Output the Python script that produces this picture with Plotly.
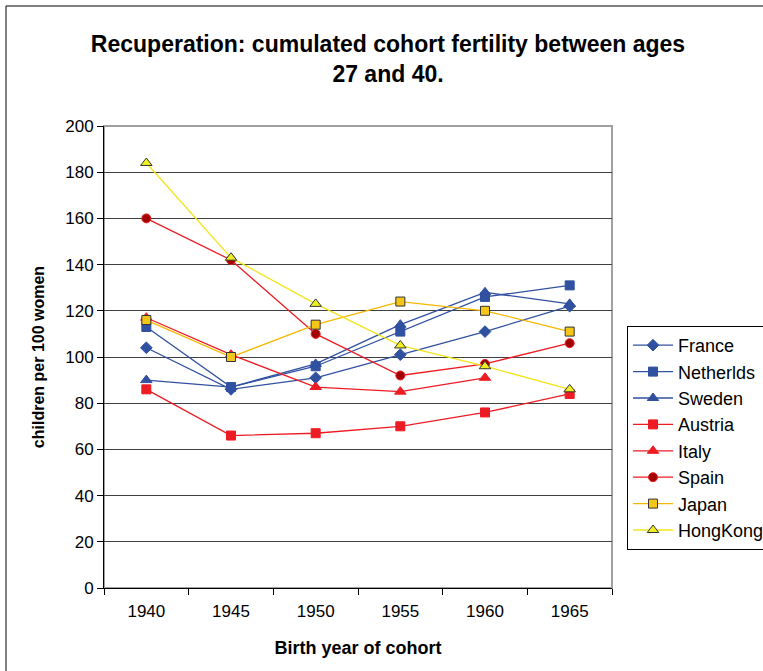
import plotly.graph_objects as go

years = ["1940", "1945", "1950", "1955", "1960", "1965"]

france = [104, 86, 91, 101, 111, 122]
netherlds = [113, 87, 96, 111, 126, 131]
sweden = [90, 87, 97, 114, 128, 123]
austria = [86, 66, 67, 70, 76, 84]
italy = [117, 101, 87, 85, 91, None]
spain = [160, 142, 110, 92, 97, 106]
japan = [116, 100, 114, 124, 120, 111]
hongkong = [184, 143, 123, 105, 96, 86]

BLUE = "#3050A0"
RED = "#ED1C24"

series = [
    ("France", france, "diamond", BLUE, BLUE, BLUE, 9),
    ("Netherlds", netherlds, "square", BLUE, BLUE, BLUE, 9),
    ("Sweden", sweden, "triangle-up", BLUE, BLUE, BLUE, 10),
    ("Austria", austria, "square", RED, RED, RED, 9),
    ("Italy", italy, "triangle-up", RED, RED, RED, 10),
    ("Spain", spain, "circle", RED, "#A00000", RED, 9),
    ("Japan", japan, "square", "#F5B800", "#F5C518", "#333333", 9),
    ("HongKong", hongkong, "triangle-up", "#F2E51A", "#F0F020", "#333333", 10),
]

fig = go.Figure()
for name, vals, sym, lc, fc, oc, sz in series:
    fig.add_trace(go.Scatter(
        x=years, y=vals, name=name, mode="lines+markers",
        line=dict(color=lc, width=1.3),
        marker=dict(symbol=sym, size=sz, color=fc, line=dict(color=oc, width=1)),
    ))

W, H = 763, 671
L, T, R, B = 104, 126, 151, 83
PW, PH = W - L - R, H - T - B

fig.update_layout(
    width=W, height=H,
    margin=dict(l=L, r=R, t=T, b=B, autoexpand=False),
    plot_bgcolor="white", paper_bgcolor="white",
    font=dict(family="Liberation Sans, Arial", size=17, color="black"),
    title=dict(
        text="<b>Recuperation: cumulated cohort fertility between ages<br>27 and 40.</b>",
        x=388 / W, xref="container", xanchor="center",
        y=1 - 52 / H, yref="container", yanchor="middle",
        font=dict(size=23),
    ),
    legend=dict(
        x=(627 - L) / PW, xanchor="left", y=(PH + T - 326) / PH, yanchor="top",
        bordercolor="black", borderwidth=1,
        font=dict(size=18), itemwidth=40, tracegroupgap=0,
    ),
    shapes=[
        dict(type="rect", xref="paper", yref="paper", x0=0, x1=1, y0=0, y1=1,
             line=dict(color="#A0A0A0", width=2), layer="below"),
        dict(type="rect", xref="paper", yref="paper",
             x0=(6 - L) / PW, x1=2, y0=-1, y1=(PH + T - 6) / PH,
             line=dict(color="black", width=1), layer="below"),
    ],
)

fig.update_xaxes(
    type="category", range=[-0.5, len(years) - 0.5],
    tickson="boundaries", ticks="outside", ticklen=6,
    tickcolor="black", showline=True, linecolor="black", linewidth=1,
    showgrid=False, ticklabelstandoff=8,
    title=dict(text="<b>Birth year of cohort</b>", standoff=20, font=dict(size=18)),
)
fig.update_yaxes(
    range=[0, 200], dtick=20, ticks="outside", ticklen=6, tickcolor="black",
    showline=True, linecolor="black", linewidth=1,
    showgrid=True, gridcolor="#404040", gridwidth=1, zeroline=False,
    title=dict(text="<b>children per 100 women</b>", standoff=16, font=dict(size=16)),
)

# drop the browser's default 8px body margin so the figure sits at the page origin
fig.write_html("out.html", config={"displayModeBar": False},
               post_script="document.body.style.margin='0';")
